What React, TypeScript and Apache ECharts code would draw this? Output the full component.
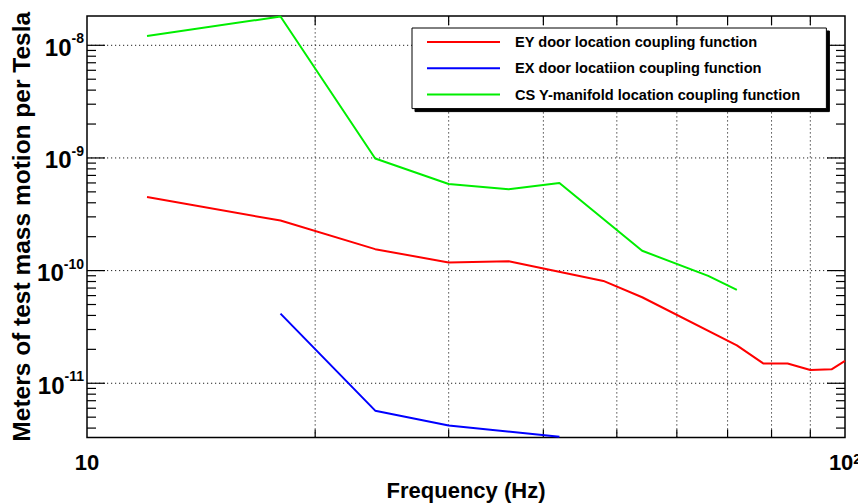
import React, { useEffect, useRef } from 'react';
import * as echarts from 'echarts';

// Axis ranges
const xMin = 10;
const xMax = 100;
const yMin = 3.3e-12;
const yMax = 1.82e-8;

// Series data (frequency in Hz, meters per tesla)
const eyName = 'EY door location coupling function';
const eyFreq = [12, 18, 24, 30, 36, 48, 54, 72, 78, 84, 90, 96, 100];
const eyValue = [4.5e-10, 2.78e-10, 1.55e-10, 1.18e-10, 1.21e-10, 8.1e-11, 5.8e-11, 2.17e-11, 1.5e-11, 1.5e-11, 1.31e-11, 1.33e-11, 1.58e-11];

const exName = 'EX door locatiion coupling function';
const exFreq = [18, 24, 30, 42];
const exValue = [4.15e-11, 5.71e-12, 4.21e-12, 3.35e-12];

const csName = 'CS Y-manifold location coupling function';
const csFreq = [12, 18, 24, 30, 36, 42, 54, 66, 72];
const csValue = [1.21e-8, 1.8e-8, 9.9e-10, 5.88e-10, 5.27e-10, 6.0e-10, 1.5e-10, 8.97e-11, 6.74e-11];

// Tick positions
const xGridTicks = [20, 30, 40, 50, 60, 70, 80, 90];
const yDecadeTicks = [1e-11, 1e-10, 1e-9, 1e-8];
const yDecadeBases = [1e-12, 1e-11, 1e-10, 1e-9, 1e-8];
const yMinorMultipliers = [2, 3, 4, 5, 6, 7, 8, 9];

const FONT = '"Liberation Sans", Arial, Helvetica, sans-serif';

const yMinorTicks = yDecadeBases
  .flatMap((d) => yMinorMultipliers.map((m) => m * d))
  .filter((v) => v > yMin && v < yMax);

const zip = (xs: number[], ys: number[]) => xs.map((x, i) => [x, ys[i]]);

const DOT = [1.2, 2.8];

export default function App() {
  const ref = useRef<HTMLDivElement>(null);

  useEffect(() => {
    if (!ref.current) return;
    const chart = echarts.init(ref.current, null, { renderer: 'svg' });

    const supFormatter = (isX: boolean) => (v: number) => {
      const e = Math.log10(v);
      const r = Math.round(e);
      if (Math.abs(e - r) > 1e-6) return '';
      if (isX && r === 1) return '{b|10}';
      return `{b|10}{s|${r}}`;
    };

    const option: any = {
      animation: false,
      grid: {
        left: 87,
        right: 13,
        top: 16,
        bottom: 66.5,
        outerBoundsMode: 'none',
        containLabel: false,
        show: true,
        borderColor: '#000',
        borderWidth: 1.5,
        backgroundColor: 'transparent',
      },
      legend: {
        data: [eyName, exName, csName],
        orient: 'vertical',
        left: 412,
        top: 28,
        icon: 'rect',
        itemWidth: 73,
        itemHeight: 2,
        itemGap: 10.3,
        padding: [6, 26, 6, 15],
        backgroundColor: '#fff',
        borderColor: '#000',
        borderWidth: 1,
        borderRadius: 0,
        shadowColor: '#000',
        shadowBlur: 0,
        shadowOffsetX: 3,
        shadowOffsetY: 3,
        selectedMode: false,
        textStyle: {
          fontFamily: FONT,
          fontWeight: 'bold',
          fontSize: 14.6,
          color: '#000',
          lineHeight: 16,
          padding: [0, 0, 0, 10],
        },
      },
      xAxis: {
        type: 'log',
        logBase: 10,
        min: xMin,
        max: xMax,
        name: 'Frequency (Hz)',
        nameLocation: 'middle',
        nameGap: 42,
        nameMoveOverlap: false,
        nameTextStyle: { fontFamily: FONT, fontWeight: 'bold', fontSize: 22, color: '#000' },
        axisLine: { show: false },
        axisTick: { show: false },
        splitLine: { show: false },
        axisLabel: {
          showMinLabel: true,
          showMaxLabel: true,
          margin: 14,
          formatter: supFormatter(true),
          rich: {
            b: { fontFamily: FONT, fontWeight: 'bold', fontSize: 22, color: '#000' },
            s: { fontFamily: FONT, fontWeight: 'bold', fontSize: 14, color: '#000', verticalAlign: 'top' },
          },
        },
      },
      yAxis: {
        type: 'log',
        logBase: 10,
        min: yMin,
        max: yMax,
        name: 'Meters of test mass motion per Tesla',
        nameLocation: 'middle',
        nameGap: 53,
        nameRotate: 90,
        nameMoveOverlap: false,
        nameTextStyle: { fontFamily: FONT, fontWeight: 'bold', fontSize: 24.5, color: '#000' },
        axisLine: { show: false },
        axisTick: { show: false },
        splitLine: { show: false },
        axisLabel: {
          margin: 3,
          formatter: supFormatter(false),
          rich: {
            b: { fontFamily: FONT, fontWeight: 'bold', fontSize: 24, color: '#000', padding: [4, 0, 0, 0] },
            s: { fontFamily: FONT, fontWeight: 'bold', fontSize: 14, color: '#000', verticalAlign: 'top' },
          },
        },
      },
      series: [
        {
          name: 'xgrid',
          type: 'custom',
          silent: true,
          z: 1,
          data: xGridTicks.map((v) => [v, yMin]),
          renderItem: (params: any, api: any) => {
            const x = api.value(0);
            const b = api.coord([x, yMin]);
            const t = api.coord([x, yMax]);
            return {
              type: 'group',
              children: [
                { type: 'line', shape: { x1: b[0], y1: b[1], x2: t[0], y2: t[1] }, style: { stroke: '#222', lineWidth: 1, lineDash: DOT } },
                { type: 'line', shape: { x1: b[0], y1: b[1], x2: b[0], y2: b[1] - 8 }, style: { stroke: '#000', lineWidth: 1.2 } },
                { type: 'line', shape: { x1: t[0], y1: t[1], x2: t[0], y2: t[1] + 9 }, style: { stroke: '#000', lineWidth: 1.2 } },
              ],
            };
          },
        },
        {
          name: 'ygrid',
          type: 'custom',
          silent: true,
          z: 1,
          data: yDecadeTicks.map((v) => [xMin, v]),
          renderItem: (params: any, api: any) => {
            const y = api.value(1);
            const l = api.coord([xMin, y]);
            const r = api.coord([xMax, y]);
            return {
              type: 'group',
              children: [
                { type: 'line', shape: { x1: l[0], y1: l[1], x2: r[0], y2: r[1] }, style: { stroke: '#222', lineWidth: 1, lineDash: DOT } },
                { type: 'line', shape: { x1: l[0], y1: l[1], x2: l[0] + 18, y2: l[1] }, style: { stroke: '#000', lineWidth: 1.2 } },
                { type: 'line', shape: { x1: r[0], y1: r[1], x2: r[0] - 18, y2: r[1] }, style: { stroke: '#000', lineWidth: 1.2 } },
              ],
            };
          },
        },
        {
          name: 'yminor',
          type: 'custom',
          silent: true,
          z: 1,
          data: yMinorTicks.map((v) => [xMin, v]),
          renderItem: (params: any, api: any) => {
            const y = api.value(1);
            const l = api.coord([xMin, y]);
            const r = api.coord([xMax, y]);
            return {
              type: 'group',
              children: [
                { type: 'line', shape: { x1: l[0], y1: l[1], x2: l[0] + 9, y2: l[1] }, style: { stroke: '#000', lineWidth: 1.2 } },
                { type: 'line', shape: { x1: r[0], y1: r[1], x2: r[0] - 9, y2: r[1] }, style: { stroke: '#000', lineWidth: 1.2 } },
              ],
            };
          },
        },
        {
          name: eyName,
          type: 'line',
          data: zip(eyFreq, eyValue),
          symbol: 'none',
          color: '#ff0000',
          lineStyle: { color: '#ff0000', width: 2 },
          z: 3,
        },
        {
          name: exName,
          type: 'line',
          data: zip(exFreq, exValue),
          symbol: 'none',
          color: '#0000ff',
          lineStyle: { color: '#0000ff', width: 2 },
          z: 3,
        },
        {
          name: csName,
          type: 'line',
          data: zip(csFreq, csValue),
          symbol: 'none',
          color: '#00ee00',
          lineStyle: { color: '#00ee00', width: 2 },
          z: 3,
        },
      ],
    };

    chart.setOption(option);
    return () => chart.dispose();
  }, []);

  return <div ref={ref} style={{ width: 858, height: 504, position: 'absolute', left: 0, top: 0, background: '#fff' }} />;
}
